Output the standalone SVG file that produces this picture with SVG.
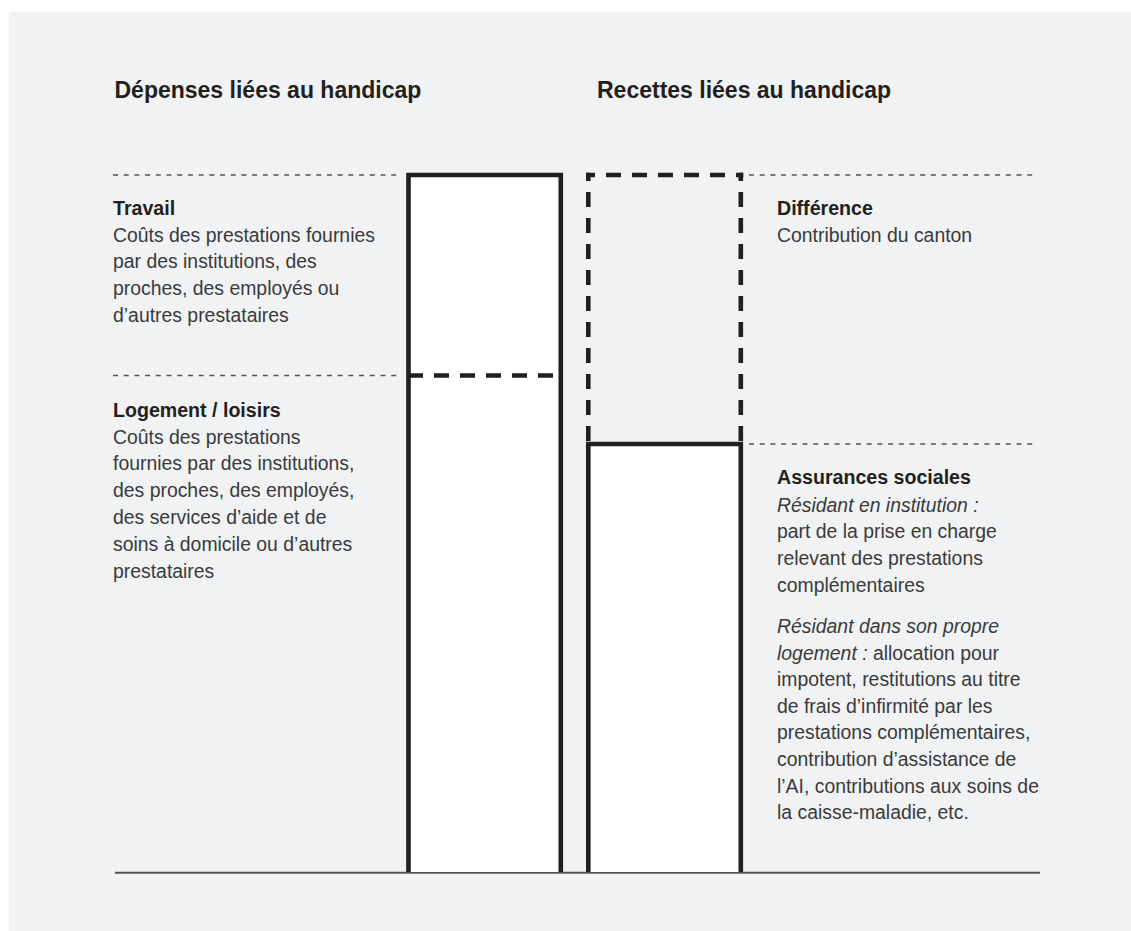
<svg xmlns="http://www.w3.org/2000/svg" width="1131" height="931" viewBox="0 0 1131 931">
<style>
.title{font-family:"Liberation Sans",Arial,sans-serif;font-weight:bold;font-size:23px;fill:#231f20}
.lbl{font-family:"Liberation Sans",Arial,sans-serif;font-weight:bold;font-size:19.6px;fill:#231f20}
.txt{font-family:"Liberation Sans",Arial,sans-serif;font-size:19.4px;fill:#3a3a3a}
.it{font-style:italic}
.dot{stroke:#555;stroke-width:1.5;stroke-dasharray:5 5.7;fill:none}
.thick{stroke:#231f20;stroke-width:4.6;fill:none}
.thickdash{stroke:#231f20;stroke-width:4.6;fill:none;stroke-dasharray:15 11}
.base{stroke:#555;stroke-width:2;fill:none}
</style>
<rect x="0" y="0" width="1131" height="931" fill="#ffffff"/>
<rect x="9" y="12" width="1122" height="919" fill="#f1f2f4"/>

<g id="titles">
<text class="title" x="114.5" y="98">Dépenses liées au handicap</text>
<text class="title" x="597" y="98">Recettes liées au handicap</text>
</g>

<g id="connectors">
<line class="dot" x1="113" y1="175" x2="401" y2="175"/>
<line class="dot" x1="113" y1="375.5" x2="401" y2="375.5"/>
<line class="dot" x1="749" y1="175" x2="1037" y2="175"/>
<line class="dot" x1="749" y1="444" x2="1037" y2="444"/>
<line class="base" x1="115" y1="872.7" x2="1040" y2="872.7"/>
</g>

<g id="bar-depenses">
<path d="M408.5 872 V175 H560.8 V872 Z" fill="#ffffff" stroke="none"/>
<path class="thick" d="M408.5 872 V175 H560.8 V872"/>
<line class="thickdash" x1="406" y1="375.5" x2="563" y2="375.5" stroke-dashoffset="-2"/>
</g>

<g id="bar-recettes">
<rect x="588.3" y="444" width="152.5" height="428" fill="#ffffff"/>
<path class="thick" d="M588.3 872 V444 H740.8 V872"/>
<line class="thickdash" x1="586" y1="175" x2="743.3" y2="175" stroke-dasharray="15 10.5" stroke-dashoffset="6"/>
<line class="thickdash" x1="588.3" y1="172.7" x2="588.3" y2="442" stroke-dasharray="15 12.2" stroke-dashoffset="6.6"/>
<line class="thickdash" x1="740.8" y1="172.7" x2="740.8" y2="442" stroke-dasharray="15 12.2" stroke-dashoffset="6.6"/>
</g>

<g id="travail">
<text class="lbl" x="113" y="215">Travail</text>
<text class="txt" x="113" y="241.7">Coûts des prestations fournies</text>
<text class="txt" x="113" y="268.4">par des institutions, des</text>
<text class="txt" x="113" y="295">proches, des employés ou</text>
<text class="txt" x="113" y="321.7">d’autres prestataires</text>
</g>

<g id="logement">
<text class="lbl" x="113" y="416.7">Logement / loisirs</text>
<text class="txt" x="113" y="443.6">Coûts des prestations</text>
<text class="txt" x="113" y="470.4">fournies par des institutions,</text>
<text class="txt" x="113" y="497.2">des proches, des employés,</text>
<text class="txt" x="113" y="524">des services d’aide et de</text>
<text class="txt" x="113" y="550.8">soins à domicile ou d’autres</text>
<text class="txt" x="113" y="577.6">prestataires</text>
</g>

<g id="difference">
<text class="lbl" x="777" y="215">Différence</text>
<text class="txt" x="777" y="241.7">Contribution du canton</text>
</g>

<g id="assurances">
<text class="lbl" x="777" y="484.3">Assurances sociales</text>
<text class="txt it" x="777" y="511.5">Résidant en institution :</text>
<text class="txt" x="777" y="538.3">part de la prise en charge</text>
<text class="txt" x="777" y="565">relevant des prestations</text>
<text class="txt" x="777" y="591.7">complémentaires</text>
<text class="txt it" x="777" y="633.3">Résidant dans son propre</text>
<text class="txt" x="777" y="659.5"><tspan class="it">logement :</tspan> allocation pour</text>
<text class="txt" x="777" y="686.2">impotent, restitutions au titre</text>
<text class="txt" x="777" y="712.8">de frais d’infirmité par les</text>
<text class="txt" x="777" y="739.4">prestations complémentaires,</text>
<text class="txt" x="777" y="766">contribution d’assistance de</text>
<text class="txt" x="777" y="792.7">l’AI, contributions aux soins de</text>
<text class="txt" x="777" y="819.3">la caisse-maladie, etc.</text>
</g>
</svg>
